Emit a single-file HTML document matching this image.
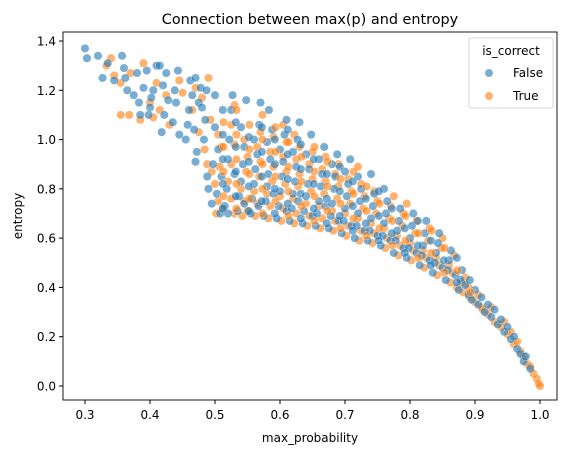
<!DOCTYPE html>
<html><head><meta charset="utf-8"><style>
body{margin:0;background:#fff}
svg{display:block;font-family:"DejaVu Sans","Liberation Sans",sans-serif}
</style></head><body>
<svg id="chart" width="567" height="455" viewBox="0 0 567 455">
<rect x="0" y="0" width="567" height="455" fill="#fff"/>
<g id="points"></g>
<rect x="63" y="32" width="494" height="368" fill="none" stroke="#000" stroke-width="0.9"/>
<g id="xticks"></g>
<g id="yticks"></g>
<text x="310" y="24" text-anchor="middle" font-size="14.4">Connection between max(p) and entropy</text>
<text x="310" y="442" text-anchor="middle" font-size="12">max_probability</text>
<text transform="translate(22,216) rotate(-90)" text-anchor="middle" font-size="12">entropy</text>
<g>
<rect x="469" y="38" width="84" height="70" rx="2" fill="#fff" fill-opacity="0.8" stroke="#ccc" stroke-width="0.8"/>
<text x="511" y="55" text-anchor="middle" font-size="12">is_correct</text>
<circle cx="489" cy="73" r="4" fill="#1f77b4" fill-opacity="0.6"/>
<text x="513" y="77" font-size="12">False</text>
<circle cx="489" cy="96" r="4" fill="#ff7f0e" fill-opacity="0.6"/>
<text x="513" y="100" font-size="12">True</text>
</g>
</svg>
<script>
const xTicks=[0.3,0.4,0.5,0.6,0.7,0.8,0.9,1.0];
const xTickLabels=["0.3","0.4","0.5","0.6","0.7","0.8","0.9","1.0"];
const yTicks=[0,0.2,0.4,0.6,0.8,1.0,1.2,1.4];
const yTickLabels=["0.0","0.2","0.4","0.6","0.8","1.0","1.2","1.4"];
const falsePoints=[[0.300,1.37],[0.303,1.33],[0.32,1.34],[0.327,1.25],[0.335,1.31],[0.345,1.24],[0.357,1.34],[0.36,1.29],[0.365,1.20],[0.362,1.25],
[0.375,1.18],[0.38,1.27],[0.385,1.10],[0.383,1.15],[0.39,1.21],[0.395,1.28],[0.40,1.13],[0.405,1.20],[0.398,1.10],[0.41,1.30],[0.402,1.17],
[0.415,1.30],[0.418,1.03],[0.42,1.22],[0.425,1.27],[0.422,1.10],[0.428,1.16],[0.435,1.07],[0.44,1.15],[0.443,1.28],[0.445,1.02],[0.438,1.20],
[0.455,1.00],[0.46,1.12],[0.465,1.18],[0.458,1.06],[0.462,1.24],[0.47,1.25],[0.472,0.95],[0.475,1.15],[0.468,1.04],[0.478,1.21],[0.47,0.91],
[0.483,1.00],[0.485,1.08],[0.488,0.85],[0.48,1.13],[0.49,0.80],[0.487,1.20],
[0.495,0.74],[0.497,0.90],[0.50,1.05],[0.503,0.78],[0.505,0.96],[0.50,1.18],[0.508,0.70],[0.51,0.85],
[0.515,0.73],[0.518,0.80],[0.52,0.92],[0.522,1.00],[0.525,1.12],[0.527,1.18],[0.52,0.70],[0.53,0.86],
[0.535,0.71],[0.537,0.77],[0.54,0.83],[0.543,0.90],[0.545,0.97],[0.54,1.05],[0.548,1.16],[0.545,0.74],
[0.555,0.70],[0.557,0.76],[0.56,0.82],[0.562,0.88],[0.565,0.94],[0.56,1.00],[0.568,1.06],[0.57,1.15],[0.567,0.73],
[0.575,0.69],[0.578,0.75],[0.58,0.81],[0.582,0.86],[0.585,0.92],[0.58,0.99],[0.588,1.04],[0.583,1.12],[0.59,0.78],
[0.595,0.68],[0.598,0.73],[0.60,0.79],[0.603,0.85],[0.605,0.91],[0.60,0.96],[0.607,1.02],[0.61,1.08],[0.61,0.71],
[0.615,0.67],[0.618,0.72],[0.62,0.78],[0.623,0.83],[0.625,0.89],[0.62,0.95],[0.627,1.00],[0.63,1.07],[0.628,0.75],
[0.635,0.66],[0.637,0.71],[0.64,0.77],[0.643,0.82],[0.645,0.88],[0.64,0.94],[0.648,1.02],[0.65,0.69],
[0.655,0.65],[0.657,0.70],[0.66,0.75],[0.663,0.81],[0.665,0.86],[0.66,0.92],[0.668,0.97],[0.67,0.73],
[0.675,0.64],[0.678,0.69],[0.68,0.74],[0.683,0.80],[0.685,0.85],[0.68,0.90],[0.688,0.94],[0.69,0.67],
[0.695,0.62],[0.698,0.67],[0.70,0.72],[0.703,0.77],[0.705,0.82],[0.70,0.87],[0.708,0.92],[0.71,0.65],
[0.715,0.60],[0.718,0.65],[0.72,0.70],[0.723,0.75],[0.725,0.80],[0.72,0.85],[0.73,0.63],
[0.735,0.59],[0.738,0.63],[0.74,0.68],[0.743,0.73],[0.745,0.78],[0.74,0.86],[0.75,0.61],
[0.755,0.57],[0.758,0.61],[0.76,0.66],[0.763,0.70],[0.765,0.75],[0.76,0.80],[0.77,0.59],
[0.775,0.54],[0.778,0.59],[0.78,0.63],[0.783,0.67],[0.785,0.72],[0.79,0.56],
[0.795,0.52],[0.798,0.56],[0.80,0.60],[0.803,0.65],[0.805,0.70],[0.81,0.54],
[0.815,0.49],[0.818,0.53],[0.82,0.57],[0.823,0.62],[0.825,0.67],[0.83,0.51],
[0.835,0.46],[0.838,0.50],[0.84,0.54],[0.843,0.58],[0.845,0.62],[0.85,0.48],
[0.855,0.43],[0.858,0.47],[0.86,0.51],[0.863,0.55],[0.87,0.45],
[0.875,0.39],[0.878,0.43],[0.88,0.47],[0.885,0.41],[0.89,0.37],
[0.895,0.35],[0.90,0.39],[0.905,0.33],[0.91,0.36],[0.915,0.30],[0.92,0.33],[0.925,0.28],[0.93,0.31],
[0.935,0.25],[0.94,0.27],[0.945,0.22],[0.95,0.24],[0.955,0.19],[0.96,0.20],[0.965,0.15],[0.97,0.13],
[0.975,0.10],[0.978,0.12],[0.985,0.07],
[0.512,0.72],[0.512,0.82],[0.512,0.92],[0.512,1.02],[0.512,1.12],
[0.532,0.77],[0.532,0.87],[0.532,0.97],[0.532,1.07],
[0.552,0.71],[0.552,0.81],[0.552,0.91],[0.552,1.01],
[0.572,0.75],[0.572,0.85],[0.572,0.95],[0.572,1.05],
[0.592,0.70],[0.592,0.80],[0.592,0.90],[0.592,1.00],
[0.612,0.74],[0.612,0.84],[0.612,0.94],[0.612,1.04],
[0.632,0.68],[0.632,0.78],[0.632,0.88],[0.632,0.98],
[0.652,0.72],[0.652,0.82],[0.652,0.92],
[0.672,0.66],[0.672,0.76],[0.672,0.86],
[0.692,0.69],[0.692,0.79],[0.692,0.89],
[0.712,0.63],[0.712,0.73],[0.712,0.83],
[0.732,0.66],[0.732,0.76],
[0.752,0.59],[0.752,0.69],[0.752,0.79],
[0.772,0.62],[0.772,0.72],
[0.792,0.54],[0.792,0.64],
[0.812,0.57],[0.812,0.67],
[0.832,0.49],[0.832,0.59],
[0.852,0.51],
[0.872,0.42],[0.872,0.52],
[0.892,0.43]];
const truePoints=[[0.34,1.33],[0.333,1.30],[0.345,1.26],[0.355,1.10],[0.355,1.23],[0.368,1.10],[0.37,1.27],[0.39,1.31],[0.385,1.08],[0.40,1.15],[0.405,1.09],[0.41,1.23],[0.415,1.12],[0.425,1.18],[0.43,1.06],[0.445,1.24],[0.45,1.19],[0.465,1.12],[0.47,1.21],[0.475,1.03],[0.48,1.17],[0.484,0.96],[0.488,0.90],[0.49,1.25],[0.493,1.08],[0.495,0.87],
[0.502,0.70],[0.505,0.75],[0.50,0.82],[0.507,0.89],[0.51,0.97],[0.505,1.02],
[0.512,0.72],[0.525,0.76],[0.52,0.83],[0.53,0.70],[0.525,0.90],[0.53,0.98],[0.525,1.06],[0.53,1.14],
[0.542,0.69],[0.545,0.75],[0.54,0.80],[0.548,0.87],[0.55,0.93],[0.545,1.00],[0.55,0.71],
[0.562,0.69],[0.565,0.74],[0.56,0.79],[0.568,0.85],[0.57,0.91],[0.565,0.97],[0.57,1.03],[0.573,1.10],
[0.582,0.68],[0.585,0.73],[0.58,0.78],[0.588,0.83],[0.59,0.89],[0.585,0.95],[0.59,1.01],
[0.602,0.67],[0.605,0.72],[0.60,0.77],[0.608,0.82],[0.61,0.87],[0.605,0.93],[0.61,0.99],[0.605,1.06],
[0.622,0.66],[0.625,0.70],[0.62,0.76],[0.628,0.81],[0.63,0.86],[0.625,0.92],[0.63,0.97],[0.622,1.02],
[0.642,0.65],[0.645,0.69],[0.64,0.74],[0.648,0.79],[0.65,0.84],[0.645,0.90],[0.65,0.95],
[0.662,0.64],[0.665,0.68],[0.66,0.73],[0.668,0.78],[0.67,0.83],[0.665,0.88],[0.67,0.93],
[0.682,0.63],[0.685,0.67],[0.68,0.71],[0.688,0.76],[0.69,0.81],[0.685,0.86],[0.69,0.90],
[0.702,0.61],[0.705,0.65],[0.70,0.70],[0.708,0.74],[0.71,0.79],[0.705,0.84],[0.72,0.89],
[0.722,0.59],[0.725,0.63],[0.72,0.68],[0.728,0.72],[0.73,0.77],[0.725,0.82],
[0.742,0.58],[0.745,0.62],[0.74,0.66],[0.748,0.70],[0.75,0.75],[0.745,0.79],
[0.762,0.56],[0.765,0.60],[0.76,0.64],[0.768,0.68],[0.77,0.73],[0.775,0.77],
[0.782,0.53],[0.785,0.57],[0.78,0.61],[0.788,0.65],[0.79,0.70],[0.795,0.74],
[0.802,0.51],[0.805,0.55],[0.80,0.58],[0.808,0.62],[0.81,0.67],
[0.822,0.48],[0.825,0.52],[0.82,0.55],[0.828,0.59],[0.83,0.64],
[0.842,0.45],[0.845,0.49],[0.84,0.52],[0.848,0.56],[0.85,0.60],
[0.862,0.42],[0.865,0.46],[0.86,0.49],[0.868,0.53],
[0.872,0.40],[0.882,0.38],[0.885,0.44],[0.88,0.42],[0.89,0.40],
[0.892,0.36],[0.90,0.34],[0.905,0.37],[0.91,0.32],[0.912,0.31],[0.92,0.29],[0.925,0.32],[0.93,0.26],
[0.94,0.24],[0.945,0.26],[0.95,0.21],[0.955,0.22],[0.96,0.17],[0.965,0.18],[0.97,0.14],[0.975,0.12],
[0.98,0.09],[0.985,0.08],[0.99,0.05],[0.995,0.03],[0.998,0.01],[1.0,0.0],
[0.513,0.77],[0.513,0.87],[0.513,0.97],[0.513,1.07],
[0.533,0.72],[0.533,0.82],[0.533,0.92],[0.533,1.02],[0.533,1.12],
[0.553,0.76],[0.553,0.86],[0.553,0.96],[0.553,1.06],
[0.573,0.70],[0.573,0.80],[0.573,0.90],[0.573,1.00],
[0.593,0.75],[0.593,0.85],[0.593,0.95],[0.593,1.05],
[0.613,0.69],[0.613,0.79],[0.613,0.89],[0.613,0.99],
[0.633,0.73],[0.633,0.83],[0.633,0.93],
[0.653,0.67],[0.653,0.77],[0.653,0.87],[0.653,0.97],
[0.673,0.71],[0.673,0.81],[0.673,0.91],
[0.693,0.64],[0.693,0.74],[0.693,0.84],
[0.713,0.68],[0.713,0.78],[0.713,0.87],
[0.733,0.61],[0.733,0.71],[0.733,0.81],
[0.753,0.64],[0.753,0.74],
[0.773,0.57],[0.773,0.67],
[0.793,0.59],[0.793,0.69],
[0.813,0.52],[0.813,0.62],
[0.833,0.54],[0.833,0.63],
[0.853,0.46],[0.853,0.56],
[0.873,0.47],
[0.893,0.38]];

const NS="http://www.w3.org/2000/svg";
function xScale(v){return 85+(v-0.3)*(540-85)/0.7;}
function yScale(v){return 386-v*(386-41)/1.4;}

const xg=document.getElementById('xticks');
xTicks.forEach((t,i)=>{
  const l=document.createElementNS(NS,'line');
  l.setAttribute('x1',xScale(t));l.setAttribute('x2',xScale(t));
  l.setAttribute('y1',400);l.setAttribute('y2',404);l.setAttribute('stroke','#000');
  
  
  xg.appendChild(l);
  const tx=document.createElementNS(NS,'text');
  tx.setAttribute('x',xScale(t));tx.setAttribute('y',419);
  tx.setAttribute('text-anchor','middle');tx.setAttribute('font-size','12');
  tx.textContent=xTickLabels[i];
  
  
  xg.appendChild(tx);
});
const yg=document.getElementById('yticks');
yTicks.forEach((t,i)=>{
  const l=document.createElementNS(NS,'line');
  l.setAttribute('x1',59);l.setAttribute('x2',63);
  l.setAttribute('y1',yScale(t));l.setAttribute('y2',yScale(t));l.setAttribute('stroke','#000');
  
  
  yg.appendChild(l);
  const tx=document.createElementNS(NS,'text');
  tx.setAttribute('x',56);tx.setAttribute('y',yScale(t)+4.5);
  tx.setAttribute('text-anchor','end');tx.setAttribute('font-size','12');
  tx.textContent=yTickLabels[i];
  
  
  yg.appendChild(tx);
});
const pg=document.getElementById('points');
function drawPoint(p,color,name){
  const c=document.createElementNS(NS,'circle');
  c.setAttribute('cx',xScale(p[0]));c.setAttribute('cy',yScale(p[1]));
  c.setAttribute('r',4.2);c.setAttribute('fill',color);c.setAttribute('fill-opacity','0.6');
  c.setAttribute('stroke','#fff');c.setAttribute('stroke-width','0.5');c.setAttribute('stroke-opacity','0.6');
  
  
  pg.appendChild(c);
}
const n=Math.max(falsePoints.length,truePoints.length);
for(let i=0;i<n;i++){
  if(i<falsePoints.length)drawPoint(falsePoints[i],'#1f77b4','point-false');
  if(i<truePoints.length)drawPoint(truePoints[i],'#ff7f0e','point-true');
}
</script>
</body></html>
